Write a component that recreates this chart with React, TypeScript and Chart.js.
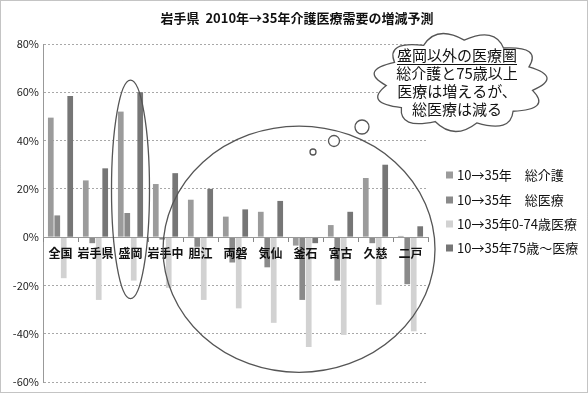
import React, { useEffect, useRef } from 'react';
import { Chart, registerables } from 'chart.js';

Chart.register(...registerables);

const categories = ['全国', '岩手県', '盛岡', '岩手中', '胆江', '両磐', '気仙', '釜石', '宮古', '久慈', '二戸'];
const seriesNames = ['10→35年　総介護', '10→35年　総医療', '10→35年0-74歳医療', '10→35年75歳～医療'];
const totalCare = [49.5, 23.5, 52, 22, 15.5, 8.5, 10.5, -3.5, 5, 24.5, 0.5];
const totalMedical = [9, -2.5, 10, -1, -4, -10.5, -12.5, -26, -18, -2.5, -19.5];
const medicalUnder75 = [-17, -26, -18, -21, -26, -29.5, -35.5, -45.5, -40.5, -28, -39];
const medicalOver75 = [58.5, 28.5, 60, 26.5, 20, 11.5, 15, -2.5, 10.5, 30, 4.5];
const yTicks = [-60, -40, -20, 0, 20, 40, 60, 80];
const titleText = '岩手県  2010年→35年介護医療需要の増減予測';
const cloudLines = ['盛岡以外の医療圏', '総介護と75歳以上', '医療は増えるが、', '総医療は減る'];

const colors = ['#9b9b9b', '#8a8a8a', '#d2d2d2', '#767676'];
const FONT = "'Noto Sans CJK JP', 'Noto Sans', sans-serif";

function drawCloud(ctx: CanvasRenderingContext2D, cx: number, cy: number, rx: number, ry: number, n: number) {
  ctx.beginPath();
  for (let i = 0; i < n; i++) {
    const a0 = (Math.PI * 2 * i) / n + 0.2;
    const a1 = (Math.PI * 2 * (i + 1)) / n + 0.2;
    const am = (a0 + a1) / 2;
    const x0 = cx + rx * Math.cos(a0), y0 = cy + ry * Math.sin(a0);
    const x1 = cx + rx * Math.cos(a1), y1 = cy + ry * Math.sin(a1);
    const qx = cx + rx * 1.4 * Math.cos(am), qy = cy + ry * 1.4 * Math.sin(am);
    if (i === 0) ctx.moveTo(x0, y0);
    ctx.quadraticCurveTo(qx, qy, x1, y1);
  }
  ctx.closePath();
}

const decorPlugin = {
  id: 'decor',
  afterDraw(chart: any) {
    const ctx: CanvasRenderingContext2D = chart.ctx;
    const xs = chart.scales.x;
    const ys = chart.scales.y;
    ctx.save();
    // frame
    ctx.strokeStyle = '#888';
    ctx.lineWidth = 1;
    ctx.setLineDash([1, 1]);
    ctx.strokeRect(0.5, 0.5, chart.width - 1, chart.height - 1);
    ctx.setLineDash([]);

    // title
    ctx.fillStyle = '#111';
    ctx.font = `bold 13px ${FONT}`;
    ctx.textAlign = 'center';
    ctx.textBaseline = 'middle';
    ctx.fillText(titleText, 297, 18);

    // ellipse around 盛岡
    ctx.strokeStyle = '#555';
    ctx.lineWidth = 1.3;
    const mx = xs.getPixelForValue(2);
    const mTop = ys.getPixelForValue(65);
    const mBot = ys.getPixelForValue(-25.5);
    ctx.beginPath();
    ctx.ellipse(mx, (mTop + mBot) / 2, 19, (mBot - mTop) / 2, 0, 0, Math.PI * 2);
    ctx.stroke();

    // big ellipse around other regions
    const bl = xs.getPixelForValue(2.93);
    const br = xs.getPixelForValue(10.7);
    const bt = ys.getPixelForValue(46);
    const bb = ys.getPixelForValue(-56);
    ctx.beginPath();
    ctx.ellipse((bl + br) / 2, (bt + bb) / 2, (br - bl) / 2, (bb - bt) / 2, 0, 0, Math.PI * 2);
    ctx.stroke();

    // thought bubbles
    ctx.fillStyle = '#fff';
    const bubbles: [number, number, number][] = [[362, 127, 7], [334, 141, 5.5], [313, 152, 3]];
    bubbles.forEach(([x, y, r]) => {
      ctx.beginPath();
      ctx.arc(x, y, r, 0, Math.PI * 2);
      ctx.fill();
      ctx.stroke();
    });

    // cloud
    drawCloud(ctx, 460, 82, 74, 42, 11);
    ctx.fillStyle = '#fff';
    ctx.fill();
    ctx.stroke();

    ctx.fillStyle = '#111';
    ctx.font = `15px ${FONT}`;
    ctx.textAlign = 'center';
    ctx.textBaseline = 'middle';
    const lineYs = [55, 73, 91, 109];
    cloudLines.forEach((t, i) => {
      ctx.fillText(t, 457, lineYs[i]);
    });
    const w0 = ctx.measureText(cloudLines[0]).width;
    ctx.lineWidth = 1;
    ctx.strokeStyle = '#111';
    ctx.beginPath();
    ctx.moveTo(457 - w0 / 2, 64.5);
    ctx.lineTo(457 + w0 / 2, 64.5);
    ctx.stroke();

    // legend
    ctx.font = `13px ${FONT}`;
    ctx.textAlign = 'left';
    const legYs = [175, 200, 224, 248];
    chart.data.datasets.forEach((ds: any, i: number) => {
      ctx.fillStyle = ds.backgroundColor;
      ctx.fillRect(446, legYs[i] - 3.5, 7, 7);
      ctx.fillStyle = '#111';
      ctx.fillText(ds.label, 457, legYs[i]);
    });
    ctx.restore();
  },
};

export default function App() {
  const ref = useRef<HTMLCanvasElement | null>(null);
  useEffect(() => {
    document.body.style.margin = '0';
    const canvas = ref.current!;
    const chart = new Chart(canvas, {
      type: 'bar',
      data: {
        labels: categories,
        datasets: [
          { label: seriesNames[0], data: totalCare, backgroundColor: colors[0] },
          { label: seriesNames[1], data: totalMedical, backgroundColor: colors[1] },
          { label: seriesNames[2], data: medicalUnder75, backgroundColor: colors[2] },
          { label: seriesNames[3], data: medicalOver75, backgroundColor: colors[3] },
        ],
      },
      options: {
        responsive: false,
        animation: false,
        devicePixelRatio: 1,
        layout: { padding: { left: 8, right: 160, top: 44, bottom: 11 } },
        datasets: { bar: { categoryPercentage: 0.74, barPercentage: 0.88 } },
        plugins: {
          legend: { display: false },
          title: { display: false },
          tooltip: { enabled: false },
        },
        scales: {
          x: {
            position: { y: 0 } as any,
            grid: { display: true, drawOnChartArea: false, drawTicks: true, tickLength: 4, offset: true, color: '#888', z: 1 } as any,
            border: { display: true, color: '#999', z: 1 } as any,
            ticks: { z: 2, color: '#111', font: { family: FONT, size: 12, weight: 'bold' }, padding: 5, maxRotation: 0, autoSkip: false } as any,
          },
          y: {
            min: -60,
            max: 80,
            afterBuildTicks: (s: any) => { s.ticks = yTicks.map((v) => ({ value: v })); },
            afterFit: (s: any) => { s.width = 35; },
            ticks: { color: '#222', font: { family: FONT, size: 11 }, padding: 4, callback: (v: any) => `${v}%` },
            grid: { color: '#a8a8a8', drawTicks: false },
            border: { display: true, color: '#999', dash: [2, 2] },
          },
        },
      },
      plugins: [decorPlugin],
    });
    return () => chart.destroy();
  }, []);
  return (
    <div style={{ position: 'absolute', left: 0, top: 0, width: 588, height: 393, background: '#fff' }}>
      <canvas ref={ref} width={588} height={393} />
    </div>
  );
}
